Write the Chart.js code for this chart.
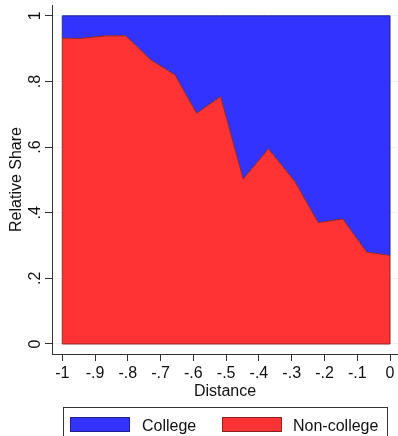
<!DOCTYPE html>
<html lang="en">
<head>
<meta charset="UTF-8">
<title>Relative Share by Distance</title>
<script src="https://cdn.jsdelivr.net/npm/chart.js"></script>
<style>
  html, body { margin: 0; padding: 0; background: #fff; }
  #wrap { position: relative; width: 398px; height: 436px; overflow: hidden;
          font-family: "Liberation Sans", Arial, sans-serif; }
  .legend { position: absolute; left: 63px; top: 407px; width: 325px; height: 40px;
            border: 1px solid #333; box-sizing: border-box; }
  .swatch { position: absolute; top: 9px; width: 60px; height: 15px; box-sizing: border-box; }
  .label { position: absolute; top: 8px; font-size: 16px; line-height: 19px; color: #111; }
</style>
</head>
<body>
<div id="wrap">
  <canvas id="chart" width="398" height="436"></canvas>
  <div class="legend">
    <div class="swatch" style="left:6px; background:#3333ff; border:1px solid #1f1f8f;"></div>
    <div class="label" style="left:78px;">College</div>
    <div class="swatch" style="left:158px; background:#ff3333; border:1px solid #8b2323;"></div>
    <div class="label" style="left:229px;">Non-college</div>
  </div>
</div>

<script>
// data
const distance   = [-1, -0.946, -0.87, -0.806, -0.73, -0.656, -0.59, -0.517, -0.448, -0.371, -0.29, -0.219, -0.144, -0.071, 0];
const nonCollege = [0.932, 0.931, 0.939, 0.939, 0.866, 0.820, 0.703, 0.754, 0.503, 0.595, 0.495, 0.370, 0.381, 0.280, 0.270];
const college    = [0.068, 0.069, 0.061, 0.061, 0.134, 0.180, 0.297, 0.246, 0.497, 0.405, 0.505, 0.630, 0.619, 0.720, 0.730];
const xTicks = [-1, -0.9, -0.8, -0.7, -0.6, -0.5, -0.4, -0.3, -0.2, -0.1, 0];
const yTicks = [0, 0.2, 0.4, 0.6, 0.8, 1];

const RED = '#ff3333', RED_EDGE = '#8b2323';
const BLUE = '#3333ff', BLUE_EDGE = '#1f1f8f';
const FONT = '"Liberation Sans", Arial, sans-serif';

// stata style labels: -.9, .8
function fmt(v) {
  const r = Math.round(v * 10) / 10;
  return String(r).replace(/^(-?)0\./, '$1.');
}

const pts = arr => distance.map((d, i) => ({ x: d, y: arr[i] }));

// rotated y tick labels (chart.js can't rotate vertical axis labels)
const yLabels = {
  id: 'yLabels',
  afterDraw(chart) {
    const y = chart.scales.y, ctx = chart.ctx;
    ctx.save();
    ctx.fillStyle = '#111';
    ctx.font = '16px ' + FONT;
    ctx.textAlign = 'center';
    ctx.textBaseline = 'alphabetic';
    yTicks.forEach(v => {
      ctx.save();
      ctx.translate(40, y.getPixelForValue(v));
      ctx.rotate(-Math.PI / 2);
      ctx.fillText(fmt(v), 0, 0);
      ctx.restore();
    });
    ctx.restore();
  }
};

// outline the sides of the area polygons
const edges = {
  id: 'edges',
  afterDatasetsDraw(chart) {
    const { x, y } = chart.scales, ctx = chart.ctx;
    const n = distance.length - 1;
    const line = (x0, y0, x1, y1, c) => {
      ctx.beginPath();
      ctx.strokeStyle = c;
      ctx.moveTo(x.getPixelForValue(x0), y.getPixelForValue(y0));
      ctx.lineTo(x.getPixelForValue(x1), y.getPixelForValue(y1));
      ctx.stroke();
    };
    ctx.save();
    ctx.lineWidth = 1;
    line(distance[0], 0, distance[n], 0, RED_EDGE);
    line(distance[0], 0, distance[0], nonCollege[0], RED_EDGE);
    line(distance[n], 0, distance[n], nonCollege[n], RED_EDGE);
    line(distance[0], nonCollege[0], distance[0], 1, BLUE_EDGE);
    line(distance[n], nonCollege[n], distance[n], 1, BLUE_EDGE);
    ctx.restore();
  }
};

new Chart(document.getElementById('chart'), {
  type: 'line',
  data: {
    datasets: [
      {
        label: 'Non-college',
        data: pts(nonCollege),
        backgroundColor: RED,
        borderColor: RED_EDGE,
        borderWidth: 1,
        fill: 'origin',
        pointRadius: 0,
        tension: 0
      },
      {
        label: 'College',
        data: pts(college),
        backgroundColor: BLUE,
        borderColor: BLUE_EDGE,
        borderWidth: 1,
        fill: '-1',
        pointRadius: 0,
        tension: 0
      }
    ]
  },
  options: {
    responsive: false,
    animation: false,
    layout: { padding: { top: 5, right: 0, bottom: 35, left: 0 } },
    plugins: {
      legend: { display: false },
      tooltip: { enabled: false }
    },
    scales: {
      x: {
        type: 'linear',
        min: -1.0314,
        max: 0.0244,
        afterBuildTicks: s => { s.ticks = xTicks.map(v => ({ value: v })); },
        afterFit: s => { s.height = 47; },
        ticks: {
          callback: v => fmt(v),
          color: '#111',
          font: { family: FONT, size: 16 },
          padding: 3,
          maxRotation: 0,
          autoSkip: false
        },
        grid: {
          drawOnChartArea: false,
          color: 'rgba(0,0,0,0)',
          tickColor: '#333',
          tickLength: 7
        },
        border: { display: true, color: '#333', width: 1 },
        title: {
          display: true,
          text: 'Distance',
          color: '#111',
          font: { family: FONT, size: 16 },
          padding: 0
        }
      },
      y: {
        type: 'linear',
        stacked: true,
        min: -0.0305,
        max: 1.033,
        afterBuildTicks: s => { s.ticks = yTicks.map(v => ({ value: v })); },
        afterFit: s => { s.width = 52; },
        ticks: { display: false },
        grid: {
          color: '#eaf2f3',
          tickColor: '#333',
          tickLength: 7
        },
        border: { display: true, color: '#333', width: 1 },
        title: {
          display: true,
          text: 'Relative Share',
          color: '#111',
          font: { family: FONT, size: 16 },
          padding: { top: 7, bottom: 0 }
        }
      }
    }
  },
  plugins: [yLabels, edges]
});
</script>
</body>
</html>
